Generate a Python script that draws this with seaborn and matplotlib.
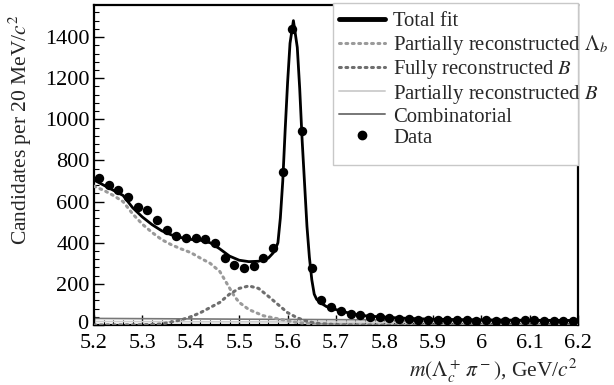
import matplotlib
matplotlib.use("Agg")
import matplotlib.pyplot as plt
import seaborn as sns
import pandas as pd
from matplotlib.patches import Rectangle
from matplotlib.lines import Line2D
from matplotlib.ticker import MultipleLocator, FuncFormatter
from matplotlib.transforms import ScaledTranslation

# ---------------- data ----------------
data_mass = [5.21, 5.23, 5.25, 5.27, 5.29, 5.31, 5.33, 5.35, 5.37, 5.39,
             5.41, 5.43, 5.45, 5.47, 5.49, 5.51, 5.53, 5.55, 5.57, 5.59,
             5.61, 5.63, 5.65, 5.67, 5.69, 5.71, 5.73, 5.75, 5.77, 5.79,
             5.81, 5.83, 5.85, 5.87, 5.89, 5.91, 5.93, 5.95, 5.97, 5.99,
             6.01, 6.03, 6.05, 6.07, 6.09, 6.11, 6.13, 6.15, 6.17, 6.19]
data_counts = [713, 680, 656, 624, 575, 559, 510, 462, 433, 421,
               421, 417, 398, 324, 292, 275, 287, 324, 373, 745,
               1437, 943, 276, 122, 89, 68, 55, 49, 40, 40,
               33, 29, 27, 25, 24, 26, 22, 24, 23, 21,
               22, 20, 21, 19, 22, 24, 21, 20, 19, 20]

fit_mass = [5.20, 5.22, 5.24, 5.26, 5.28, 5.30, 5.32, 5.34, 5.36, 5.38,
            5.40, 5.42, 5.44, 5.46, 5.48, 5.50, 5.52, 5.54, 5.56, 5.57,
            5.575, 5.58, 5.585, 5.59, 5.595, 5.60, 5.605, 5.612, 5.62, 5.625,
            5.63, 5.635, 5.64, 5.645, 5.65, 5.655, 5.66, 5.67, 5.68, 5.70,
            5.72, 5.74, 5.76, 5.80, 5.85, 5.90, 6.00, 6.10, 6.20]
fit_total = [705, 680, 655, 630, 570, 525, 488, 458, 438, 425,
             416, 412, 400, 370, 335, 315, 308, 310, 325, 350,
             370, 400, 520, 700, 950, 1180, 1370, 1480, 1350, 1150,
             900, 690, 480, 330, 220, 150, 125, 105, 90, 75,
             62, 52, 45, 38, 32, 28, 25, 23, 22]

lb_mass = [5.20, 5.22, 5.24, 5.26, 5.28, 5.30, 5.32, 5.34, 5.36, 5.38,
           5.40, 5.42, 5.44, 5.46, 5.48, 5.49, 5.50, 5.52, 5.55, 5.58,
           5.62, 5.66, 5.70, 5.80, 6.00, 6.20]
lb_part = [675, 655, 630, 600, 540, 490, 450, 415, 390, 370,
           352, 325, 300, 260, 180, 140, 110, 75, 45, 30,
           12, 3, 1, 0, 0, 0]

bfull_mass = [5.20, 5.30, 5.34, 5.38, 5.40, 5.42, 5.44, 5.46, 5.48, 5.50,
              5.52, 5.54, 5.56, 5.58, 5.60, 5.62, 5.64, 5.66, 5.70, 5.80,
              6.00, 6.20]
bfull = [0, 1, 5, 25, 40, 60, 85, 110, 150, 178,
         190, 178, 140, 100, 60, 35, 18, 8, 2, 0,
         0, 0]

bpart_mass = [5.20, 5.60, 6.20]
bpart = [17, 15, 12]

comb_mass = [5.20, 5.70, 6.20]
comb = [32, 26, 20]

x_ticks = [5.2, 5.3, 5.4, 5.5, 5.6, 5.7, 5.8, 5.9, 6.0, 6.1, 6.2]
y_ticks = [0, 200, 400, 600, 800, 1000, 1200, 1400]

legend_labels = ["Total fit", r"Partially reconstructed $\Lambda_b$",
                 r"Fully reconstructed $B$", r"Partially reconstructed $B$",
                 "Combinatorial", "Data"]

# ---------------- style ----------------
sns.set_theme(style="ticks")
plt.rcParams["font.family"] = ["Liberation Serif", "DejaVu Serif"]
plt.rcParams["mathtext.fontset"] = "stix"

fs_tick = 16
fs_leg = 14.9
fs_lab = 15.5
fig = plt.figure(figsize=(6.14, 3.85), dpi=100)
ax = fig.add_axes([94 / 614, 1 - 325 / 385, 484 / 614, 320 / 385])

c_lb = "#9a9a9a"
c_bf = "#6e6e6e"
c_bp = "#cfcfcf"
c_comb = "#777777"

sns.lineplot(x=bpart_mass, y=bpart, ax=ax, color=c_bp, lw=1.2, zorder=2)
sns.lineplot(x=comb_mass, y=comb, ax=ax, color=c_comb, lw=1.2, zorder=2)
sns.lineplot(x=lb_mass, y=lb_part, ax=ax, color=c_lb, lw=2.2,
             linestyle=(0, (0.6, 1.5)), dash_capstyle="round", zorder=3)
sns.lineplot(x=bfull_mass, y=bfull, ax=ax, color=c_bf, lw=2.2,
             linestyle=(0, (0.6, 1.5)), dash_capstyle="round", zorder=3)
sns.lineplot(x=fit_mass, y=fit_total, ax=ax, color="black", lw=2.0, zorder=4)
sns.scatterplot(x=data_mass, y=data_counts, ax=ax, color="black", s=46,
                edgecolor="black", linewidth=0, zorder=5)

ax.set_xlim(5.2, 6.2)
ax.set_ylim(0, 1556)
ax.set_xticks(x_ticks)
ax.set_yticks(y_ticks)
ax.xaxis.set_major_formatter(FuncFormatter(lambda v, p: f"{v:g}"))
ax.xaxis.set_minor_locator(MultipleLocator(0.02))
ax.yaxis.set_minor_locator(MultipleLocator(40))
ax.tick_params(which="both", direction="in", top=False, right=False,
               labelsize=fs_tick, colors="black")
ax.tick_params(axis="x", which="both", pad=6.5)
ax.tick_params(axis="y", which="both", pad=3)
ax.tick_params(which="major", length=7, width=1.0)
ax.tick_params(which="minor", length=3.5, width=0.8)
for sp in ax.spines.values():
    sp.set_linewidth(1.6)
    sp.set_color("black")

# nudge the "0" label up a little so it clears "5.2"
zero_lbl = ax.get_yticklabels()[0]
zero_lbl.set_transform(zero_lbl.get_transform()
                       + ScaledTranslation(-1 / 72, 2.5 / 72, fig.dpi_scale_trans))

ax.set_ylabel(r"Candidates per 20 MeV/$c^2$", fontsize=fs_lab, va="center")
ax.yaxis.set_label_coords(-0.153, 0.61)
ax.set_xlabel(r"$m(\Lambda_c^+\,\pi^-)$, GeV/$c^2$", fontsize=fs_lab, ha="right")
ax.xaxis.set_label_coords(1.0, -0.1)

# legend
handles = [
    Line2D([], [], color="black", lw=3.5),
    Line2D([], [], color=c_lb, lw=2.2, linestyle=(0, (0.6, 1.5)), dash_capstyle="round"),
    Line2D([], [], color=c_bf, lw=2.2, linestyle=(0, (0.6, 1.5)), dash_capstyle="round"),
    Line2D([], [], color=c_bp, lw=1.4),
    Line2D([], [], color=c_comb, lw=1.4),
    Line2D([], [], color="black", marker="o", linestyle="none", markersize=6),
]
x0 = (333 - 94) / 484
frame = Rectangle((x0, (325 - 165) / 320), 1.0 - x0, (165 - 3) / 320,
                  transform=ax.transAxes, facecolor="white",
                  edgecolor="#c8c8c8", lw=1.0, clip_on=False, zorder=6)
ax.add_patch(frame)
leg = ax.legend(handles, legend_labels, loc="upper left",
                bbox_to_anchor=(x0, 0.998), frameon=False, fontsize=fs_leg,
                handlelength=2.2, handletextpad=0.4, labelspacing=0.07,
                borderaxespad=0.0, borderpad=0.3)
leg.set_zorder(7)

fig.savefig("out.png", dpi=100)
